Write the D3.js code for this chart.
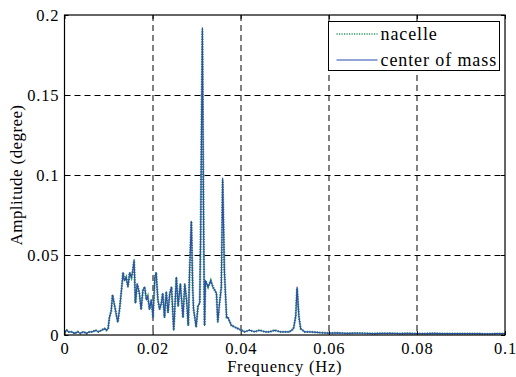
<!DOCTYPE html>
<html>
<head>
<meta charset="utf-8">
<script src="https://cdn.jsdelivr.net/npm/d3@7"></script>
<style>
  body { margin: 0; background: #fff; }
  svg text { fill: #000; }
</style>
</head>
<body>
<div id="chart"></div>
<script>
// values
const freq = [
  0.0000, 0.0005, 0.0009, 0.0016, 0.0023, 0.0030, 0.0036, 0.0043, 0.0050, 0.0057,
  0.0064, 0.0070, 0.0077, 0.0084, 0.0091, 0.0095, 0.0099, 0.0102, 0.0106, 0.0109,
  0.0114, 0.0118, 0.0121, 0.0125, 0.0130, 0.0133, 0.0136, 0.0140, 0.0144, 0.0148,
  0.0152, 0.0155, 0.0158, 0.0161, 0.0165, 0.0170, 0.0174, 0.0178, 0.0182, 0.0186,
  0.0189, 0.0193, 0.0197, 0.0201, 0.0205, 0.0208, 0.0212, 0.0216, 0.0220, 0.0223,
  0.0227, 0.0231, 0.0235, 0.0239, 0.0243, 0.0248, 0.0254, 0.0258, 0.0263, 0.0269,
  0.0273, 0.0277, 0.0281, 0.0284, 0.0288, 0.0291, 0.0293, 0.0299, 0.0303, 0.0307,
  0.0309, 0.0313, 0.0316, 0.0318, 0.0320, 0.0326, 0.0332, 0.0337, 0.0345, 0.0348,
  0.0352, 0.0356, 0.0359, 0.0363, 0.0368, 0.0371, 0.0379, 0.0386, 0.0394, 0.0402,
  0.0409, 0.0420, 0.0432, 0.0443, 0.0455, 0.0466, 0.0477, 0.0489, 0.0500, 0.0511,
  0.0520, 0.0525, 0.0528, 0.0532, 0.0536, 0.0545, 0.0557, 0.0580, 0.0600, 0.0620,
  0.0640, 0.0660, 0.0680, 0.0700, 0.0720, 0.0740, 0.0760, 0.0780, 0.0800, 0.0820,
  0.0840, 0.0860, 0.0880, 0.0900, 0.0920, 0.0940, 0.0960, 0.0980, 0.1000
];

const centerOfMass = [
  0.002, 0.003, 0.002, 0.002, 0.001, 0.002, 0.001, 0.002, 0.001, 0.002,
  0.002, 0.003, 0.002, 0.003, 0.004, 0.003, 0.004, 0.011, 0.015, 0.025,
  0.018, 0.012, 0.008, 0.016, 0.030, 0.039, 0.034, 0.036, 0.030, 0.039,
  0.036, 0.040, 0.047, 0.020, 0.032, 0.026, 0.016, 0.028, 0.030, 0.022,
  0.024, 0.016, 0.022, 0.011, 0.036, 0.039, 0.022, 0.016, 0.020, 0.026,
  0.011, 0.027, 0.014, 0.026, 0.030, 0.003, 0.036, 0.018, 0.032, 0.011,
  0.032, 0.022, 0.006, 0.040, 0.071, 0.030, 0.016, 0.005, 0.018, 0.020,
  0.060, 0.192, 0.060, 0.006, 0.034, 0.030, 0.034, 0.030, 0.026, 0.008,
  0.020, 0.030, 0.098, 0.040, 0.011, 0.011, 0.006, 0.005, 0.004, 0.003,
  0.002, 0.003, 0.002, 0.003, 0.002, 0.002, 0.003, 0.002, 0.002, 0.002,
  0.004, 0.012, 0.030, 0.012, 0.004, 0.002, 0.002, 0.0015, 0.0012, 0.0013,
  0.0010, 0.0012, 0.0011, 0.0009, 0.0010, 0.0011, 0.0009, 0.0010, 0.0008, 0.0009,
  0.0010, 0.0008, 0.0009, 0.0008, 0.0009, 0.0008, 0.0007, 0.0008, 0.0008
];

const nacelle = [
  0.002, 0.003, 0.002, 0.002, 0.001, 0.002, 0.001, 0.002, 0.001, 0.002,
  0.002, 0.003, 0.002, 0.003, 0.004, 0.003, 0.004, 0.011, 0.015, 0.025,
  0.018, 0.012, 0.008, 0.016, 0.030, 0.039, 0.034, 0.036, 0.030, 0.039,
  0.036, 0.040, 0.047, 0.020, 0.032, 0.026, 0.016, 0.028, 0.030, 0.022,
  0.024, 0.016, 0.022, 0.011, 0.036, 0.039, 0.022, 0.016, 0.020, 0.026,
  0.011, 0.027, 0.014, 0.026, 0.030, 0.003, 0.036, 0.018, 0.032, 0.011,
  0.032, 0.022, 0.006, 0.040, 0.071, 0.030, 0.016, 0.005, 0.018, 0.020,
  0.060, 0.191, 0.060, 0.006, 0.034, 0.030, 0.034, 0.030, 0.026, 0.008,
  0.020, 0.030, 0.097, 0.040, 0.011, 0.011, 0.006, 0.005, 0.004, 0.003,
  0.002, 0.003, 0.002, 0.003, 0.002, 0.002, 0.003, 0.002, 0.002, 0.002,
  0.004, 0.012, 0.029, 0.012, 0.004, 0.002, 0.002, 0.0015, 0.0012, 0.0013,
  0.0010, 0.0012, 0.0011, 0.0009, 0.0010, 0.0011, 0.0009, 0.0010, 0.0008, 0.0009,
  0.0010, 0.0008, 0.0009, 0.0008, 0.0009, 0.0008, 0.0007, 0.0008, 0.0008
];

const xTicks = [0, 0.02, 0.04, 0.06, 0.08, 0.1];
const xTickLabels = ['0', '0.02', '0.04', '0.06', '0.08', '0.1'];
const yTicks = [0, 0.05, 0.1, 0.15, 0.2];
const yTickLabels = ['0', '0.05', '0.1', '0.15', '0.2'];
const seriesNames = ['nacelle', 'center of mass'];

const FONT = 'Liberation Serif';

const W = 516;
const H = 377;
const margin = { top: 15, right: 11, bottom: 42, left: 64.5 };
const w = W - margin.left - margin.right;
const h = H - margin.top - margin.bottom;

const svg = d3.select('#chart').append('svg')
  .attr('width', W)
  .attr('height', H)
  .attr('font-family', FONT);

const g = svg.append('g')
  .attr('transform', `translate(${margin.left}, ${margin.top})`);

const xScale = d3.scaleLinear().domain([0, 0.1]).range([0, w]);
const yScale = d3.scaleLinear().domain([0, 0.2]).range([h, 0]);

// dashed grid
g.append('g')
  .selectAll('line')
  .data(xTicks.slice(1, -1))
  .join('line')
  .attr('x1', (d) => Math.round(xScale(d)) + 0.5)
  .attr('x2', (d) => Math.round(xScale(d)) + 0.5)
  .attr('y1', 0)
  .attr('y2', h)
  .attr('stroke', '#000')
  .attr('stroke-dasharray', '6,4');

g.append('g')
  .selectAll('line')
  .data(yTicks.slice(1, -1))
  .join('line')
  .attr('y1', (d) => Math.round(yScale(d)) + 0.5)
  .attr('y2', (d) => Math.round(yScale(d)) + 0.5)
  .attr('x1', 0)
  .attr('x2', w)
  .attr('stroke', '#000')
  .attr('stroke-dasharray', '6,4');

// lines: nacelle (green dotted) first, center of mass (blue) on top
const points = (vals) => freq.map((f, i) => [f, vals[i]]);
const line = d3.line()
  .x((d) => xScale(d[0]))
  .y((d) => yScale(d[1]));

g.append('path')
  .datum(points(nacelle))
  .attr('fill', 'none')
  .attr('stroke', '#2f9660')
  .attr('stroke-width', 2.3)
  .attr('stroke-dasharray', '1.2,1.3')
  .attr('d', line);

g.append('path')
  .datum(points(centerOfMass))
  .attr('fill', 'none')
  .attr('stroke', '#2d50a6')
  .attr('stroke-width', 1.2)
  .attr('stroke-linejoin', 'round')
  .attr('d', line);

// axes (ticks inside, like matlab)
const xAxis = d3.axisBottom(xScale).tickValues(xTicks)
  .tickFormat((d, i) => xTickLabels[i]).tickSize(-4).tickPadding(7);
const yAxis = d3.axisLeft(yScale).tickValues(yTicks)
  .tickFormat((d, i) => yTickLabels[i]).tickSize(-4).tickPadding(6);

const gx = g.append('g')
  .attr('transform', `translate(0, ${h})`)
  .call(xAxis);
const gy = g.append('g').call(yAxis);

[gx, gy].forEach((ax) => {
  ax.attr('font-family', FONT).attr('font-size', 16.5);
  ax.select('.domain').remove();
  ax.selectAll('line').attr('stroke', '#000');
});
gx.selectAll('text').attr('letter-spacing', 0.8);
gy.selectAll('text').attr('letter-spacing', 0.8).attr('dx', 0.8);

g.append('g')
  .call(d3.axisTop(xScale).tickValues(xTicks).tickFormat('').tickSize(-4))
  .call((a) => a.select('.domain').remove());
g.append('g')
  .attr('transform', `translate(${w}, 0)`)
  .call(d3.axisRight(yScale).tickValues(yTicks).tickFormat('').tickSize(-4))
  .call((a) => a.select('.domain').remove());

// box
g.append('rect')
  .attr('x', 0)
  .attr('y', 0)
  .attr('width', w)
  .attr('height', h)
  .attr('fill', 'none')
  .attr('stroke', '#000')
  .attr('stroke-width', 1.2);

// axis labels
svg.append('text')
  .attr('x', margin.left + w / 2)
  .attr('y', 372)
  .attr('text-anchor', 'middle')
  .attr('font-size', 16.5)
  .attr('letter-spacing', 0.8)
  .text('Frequency (Hz)');

svg.append('text')
  .attr('transform', `translate(22, ${margin.top + h / 2}) rotate(-90)`)
  .attr('text-anchor', 'middle')
  .attr('font-size', 17)
  .attr('letter-spacing', 0.4)
  .text('Amplitude (degree)');

// legend
const lg = svg.append('g').attr('transform', 'translate(328.5, 21.5)');
lg.append('rect')
  .attr('width', 171)
  .attr('height', 49)
  .attr('fill', '#fff')
  .attr('stroke', '#000');

const legendStyles = [
  { color: '#2f9660', dash: '1.2,1.3', width: 1.6 },
  { color: '#6f86c8', dash: null, width: 1.3 },
];

seriesNames.forEach((name, i) => {
  const yy = 12.5 + i * 26;
  lg.append('line')
    .attr('x1', 8)
    .attr('x2', 49)
    .attr('y1', yy)
    .attr('y2', yy)
    .attr('stroke', legendStyles[i].color)
    .attr('stroke-width', legendStyles[i].width)
    .attr('stroke-dasharray', legendStyles[i].dash);
  lg.append('text')
    .attr('x', 52)
    .attr('y', yy + 6)
    .attr('font-size', 18)
    .attr('letter-spacing', 0.9)
    .text(name);
});
</script>
</body>
</html>
